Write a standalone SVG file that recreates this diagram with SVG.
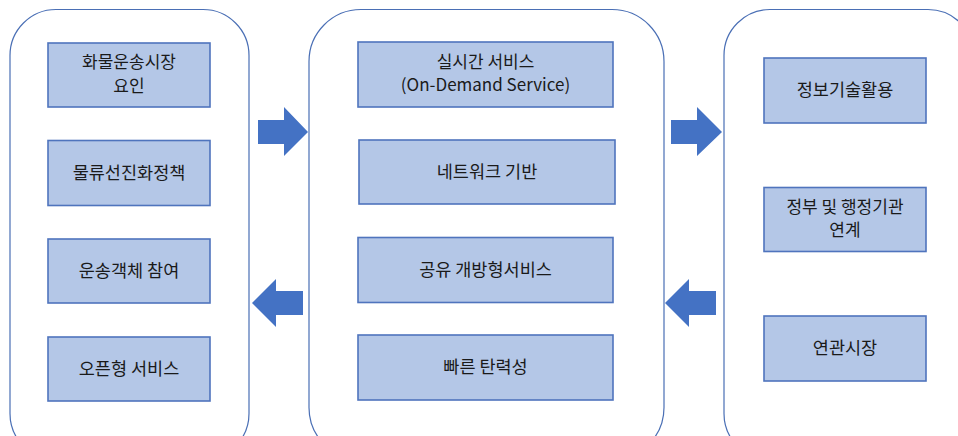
<svg xmlns="http://www.w3.org/2000/svg" width="958" height="436" viewBox="0 0 958 436">
  <style>
    .panel { fill: #ffffff; stroke: #4a6fb5; stroke-width: 1.2; }
    .box { fill: #b4c7e7; stroke: #4f74bd; stroke-width: 1.6; }
    .label { font-family: "Noto Sans CJK KR", "Noto Sans", sans-serif; font-size: 17.5px; fill: #1a1a1a; text-anchor: middle; }
    .label.two { font-size: 17px; }
    .arrow { fill: #4472c4; }
  </style>
  <rect width="958" height="436" fill="#ffffff"/>

  <!-- left panel -->
  <g id="panel-left">
    <rect class="panel" x="10" y="9.5" width="239" height="450" rx="46" ry="46"/>
    <g id="n-freight-market">
      <rect class="box" x="48" y="43" width="162" height="64"/>
      <text class="label two" x="129" y="68">화물운송시장</text>
      <text class="label two" x="129" y="91.5">요인</text>
    </g>
    <g id="n-logistics-policy">
      <rect class="box" x="48" y="140.5" width="162" height="65"/>
      <text class="label" x="129" y="179">물류선진화정책</text>
    </g>
    <g id="n-transport-entities">
      <rect class="box" x="48" y="239" width="162" height="64"/>
      <text class="label" x="129" y="277">운송객체 참여</text>
    </g>
    <g id="n-open-service">
      <rect class="box" x="48" y="337" width="162" height="64"/>
      <text class="label" x="129" y="375">오픈형 서비스</text>
    </g>
  </g>

  <!-- middle panel -->
  <g id="panel-middle">
    <rect class="panel" x="309" y="9.5" width="355" height="450" rx="52" ry="52"/>
    <g id="n-on-demand">
      <rect class="box" x="358" y="42" width="255" height="65"/>
      <text class="label two" x="485.5" y="67.5">실시간 서비스</text>
      <text class="label two" x="485.5" y="91">(On-Demand Service)</text>
    </g>
    <g id="n-network">
      <rect class="box" x="359" y="140" width="256" height="64"/>
      <text class="label" x="487" y="178">네트워크 기반</text>
    </g>
    <g id="n-sharing">
      <rect class="box" x="358" y="237.5" width="255" height="65"/>
      <text class="label" x="485.5" y="276">공유 개방형서비스</text>
    </g>
    <g id="n-elasticity">
      <rect class="box" x="358" y="335" width="255" height="65"/>
      <text class="label" x="485.5" y="373">빠른 탄력성</text>
    </g>
  </g>

  <!-- right panel -->
  <g id="panel-right">
    <rect class="panel" x="724" y="9.5" width="250" height="450" rx="46" ry="46"/>
    <g id="n-it-use">
      <rect class="box" x="764" y="58" width="162" height="65"/>
      <text class="label" x="845" y="96">정보기술활용</text>
    </g>
    <g id="n-government">
      <rect class="box" x="764" y="187.5" width="162" height="64"/>
      <text class="label two" x="845" y="212.5">정부 및 행정기관</text>
      <text class="label two" x="845" y="236">연계</text>
    </g>
    <g id="n-related-market">
      <rect class="box" x="764" y="316" width="162" height="65"/>
      <text class="label" x="845" y="354">연관시장</text>
    </g>
  </g>

  <!-- block arrows between panels -->
  <g id="connectors">
    <polygon class="arrow" points="258,120 284,120 284,107 308,132 284,156 284,144 258,144"/>
    <polygon class="arrow" points="303,291 276,291 276,279 252,303 276,327 276,315 303,315"/>
    <polygon class="arrow" points="671,120 697,120 697,107 722,132 697,156 697,144 671,144"/>
    <polygon class="arrow" points="716,291 689,291 689,279 665,303 689,327 689,315 716,315"/>
  </g>
</svg>
